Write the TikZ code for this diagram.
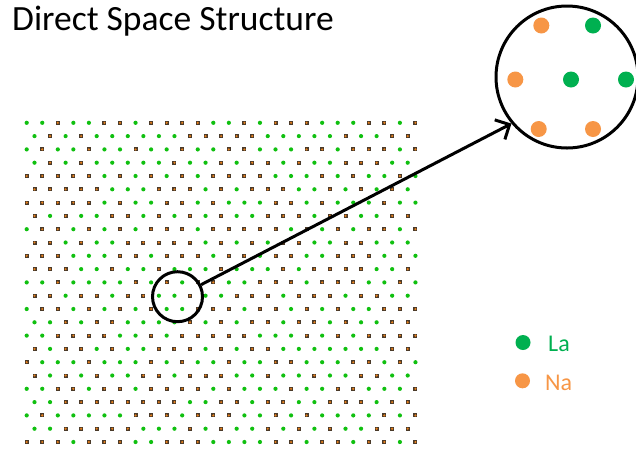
\documentclass[tikz,border=0pt]{standalone}
\usepackage{fontspec}
\setmainfont{Carlito}
\usetikzlibrary{arrows.meta}
\definecolor{lagreen}{HTML}{00B050}
\definecolor{naorange}{HTML}{F79646}
\definecolor{latgreen}{HTML}{10C010}
\definecolor{latbrown}{HTML}{4A3A2A}
\definecolor{latcore}{HTML}{E8801A}
\begin{document}
\begin{tikzpicture}[x=1pt,y=-1pt,
  ring/.style={circle, draw=black, line width=3pt, inner sep=0pt},
  bigdot/.style={circle, inner sep=0pt, minimum size=16pt},
  legtext/.style={anchor=base west, inner sep=0pt, font=\fontsize{24}{28}\selectfont}]
\useasboundingbox (0,0) rectangle (636,448);
\fill[white] (0,0) rectangle (636,448);
\node[anchor=base west, inner sep=0pt, font=\fontsize{35.5}{40}\selectfont] (title) at (12,30) {Direct Space Structure};
% lattice
\foreach \r in {0,...,24}{
  \pgfmathtruncatemacro\odd{mod(\r,2)}
  \ifnum\odd=0 \def\nc{25}\def\xo{26.7}\else \def\nc{24}\def\xo{34.5}\fi
  \pgfmathsetmacro\yy{122.8+13.3*\r}
  \foreach \c in {0,...,\nc}{
    \pgfmathsetmacro\xx{\xo+15.55*\c}
    \pgfmathtruncatemacro\k{mod(int(abs(sin(\r*12.9898+\c*78.233))*1000),2)}
    \ifnum\k=0
      \fill[latgreen] (\xx,\yy) circle (2.1);
    \else
      \fill[latbrown] (\xx-2,\yy-2) rectangle (\xx+2,\yy+2);
      \fill[latcore] (\xx,\yy) circle (1.2);
    \fi
  }
}
% magnified view
\node[ring, minimum size=50pt] (zoom) at (177.5,296.7) {};
\node[ring, fill=white, minimum size=142pt] (mag) at (567,77) {};
\node[bigdot, fill=naorange] (m1) at (541.3,25.5) {};
\node[bigdot, fill=lagreen] (m2) at (593,25.5) {};
\node[bigdot, fill=naorange] (m3) at (515.3,79.5) {};
\node[bigdot, fill=lagreen] (m4) at (571,79.5) {};
\node[bigdot, fill=lagreen] (m5) at (626,79.5) {};
\node[bigdot, fill=naorange] (m6) at (538.7,129) {};
\node[bigdot, fill=naorange] (m7) at (593,129) {};
\draw[line width=3pt, -{Straight Barb[length=11pt,width=22pt]}] (zoom.27.5) -- (mag.220);
% legend
\node[bigdot, fill=lagreen, minimum size=15pt] (lad) at (523,342.5) {};
\node[legtext, text=lagreen] (la) at (548,351.5) {La};
\node[bigdot, fill=naorange, minimum size=15pt] (nad) at (522.5,380.8) {};
\node[legtext, text=naorange] (na) at (545,390) {Na};
\end{tikzpicture}
\end{document}
